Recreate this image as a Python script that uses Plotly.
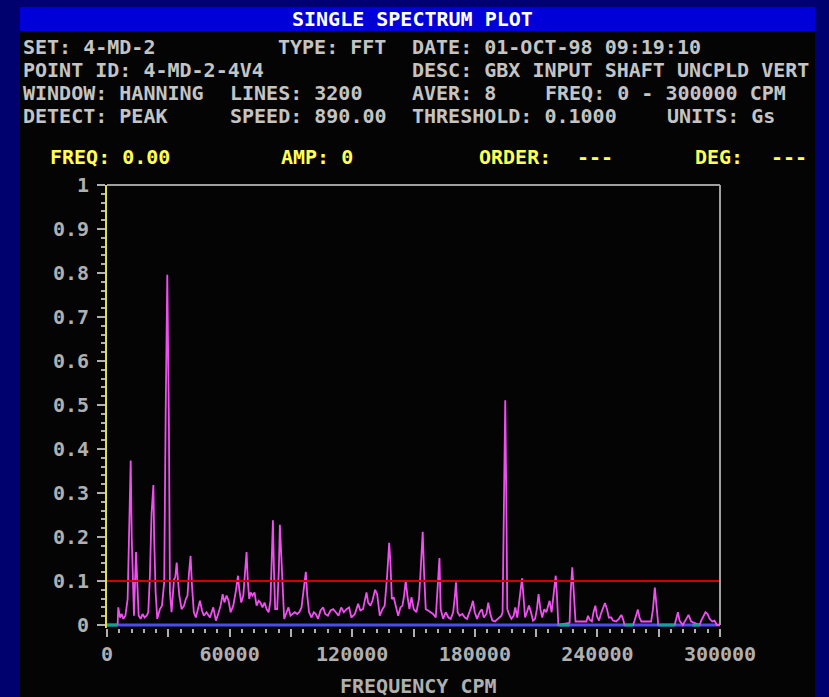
import plotly.graph_objects as go

# ---------------- data ----------------
freq_cpm = [
    5200, 5500, 6400, 7200, 8000, 9000, 10100, 10900, 11600, 12100, 12600, 13200, 14200, 14800, 15500,
    16500, 17400, 18400, 19400, 20200, 21000, 21800, 22700, 23100, 23800, 24600, 25300, 25900, 26900,
    28000, 28700, 29500, 30300, 30800, 31600, 32800, 33400, 34100, 34700, 35400, 36500, 37700, 38600,
    39400, 40100, 40900, 41600, 42500, 43500, 44500, 45500, 46500, 47400, 48700, 50400, 52000, 53300,
    54400, 55600, 56600, 57500, 58500, 59500, 60500, 61800, 63100, 64100, 64700, 65700, 66700, 67600,
    68300, 68900, 69600, 70300, 71200, 72200, 73200, 74200, 75100, 76100, 77100, 78100, 79100, 80000,
    80500, 81200, 81700, 82300, 83300, 84100, 84600, 85200, 85900, 86700, 87900, 88800, 89800, 90800,
    91900, 93100, 94100, 95200, 96300, 97300, 98000, 98900, 100100, 101200, 102200, 103300, 104500,
    105800, 106800, 108100, 109400, 110700, 112000, 113300, 114600, 115900, 117200, 118500, 119600,
    121300, 122900, 124000, 125300, 127000, 127800, 128900, 129900, 131200, 132200, 133500, 134800,
    135900, 137100, 138100, 138700, 139400, 140300, 141300, 142500, 143600, 144600, 145400, 146200,
    147000, 148000, 149000, 150100, 151400, 152700, 153700, 154500, 155200, 156000, 157100, 158300,
    159600, 160900, 161900, 162700, 163300, 164500, 165800, 167100, 168200, 169400, 170200, 170800,
    171600, 172600, 173900, 175100, 176200, 177200, 178200, 179100, 180000, 181100, 182400, 183400,
    184400, 185700, 186600, 187600, 188600, 189900, 191200, 192200, 193000, 193600, 194100, 194900,
    195400, 195900, 196700, 197900, 199000, 199800, 200800, 202000, 203100, 203800, 204600, 205500,
    206500, 207500, 208500, 209500, 210400, 211200, 212100, 213000, 214000, 215000, 216000, 216600,
    217600, 218600, 219600, 220200, 220900, 226400, 226900, 227700, 228500, 229300, 234600, 235400,
    236200, 237300, 238100, 239000, 239800, 240800, 241700, 242700, 243700, 244700, 245600, 246800,
    247600, 249200, 250500, 251700, 252500, 253300, 257400, 258200, 259800, 260600, 261500, 266300,
    267200, 268100, 269000, 269800, 277800, 278600, 279400, 280200, 281800, 283500, 284600, 285900,
    290000, 290800, 291900, 292900, 293900, 294900, 296200, 297300, 298500, 300000,
]
amp_gs = [
    0.0, 0.040, 0.017, 0.025, 0.014, 0.021, 0.059, 0.233, 0.374, 0.199, 0.089, 0.021, 0.166, 0.085, 0.021,
    0.014, 0.025, 0.017, 0.021, 0.029, 0.112, 0.253, 0.318, 0.195, 0.074, 0.014, 0.029, 0.036, 0.044,
    0.097, 0.475, 0.796, 0.456, 0.074, 0.029, 0.104, 0.108, 0.142, 0.104, 0.067, 0.036, 0.044, 0.059,
    0.067, 0.116, 0.157, 0.089, 0.029, 0.017, 0.040, 0.055, 0.033, 0.021, 0.029, 0.017, 0.040, 0.010,
    0.025, 0.044, 0.070, 0.051, 0.067, 0.055, 0.029, 0.044, 0.078, 0.112, 0.082, 0.051, 0.067, 0.131,
    0.166, 0.101, 0.059, 0.074, 0.067, 0.074, 0.044, 0.055, 0.051, 0.040, 0.051, 0.036, 0.029, 0.055,
    0.146, 0.238, 0.127, 0.036, 0.036, 0.127, 0.228, 0.165, 0.067, 0.014, 0.029, 0.040, 0.021, 0.025,
    0.029, 0.025, 0.029, 0.040, 0.082, 0.121, 0.067, 0.029, 0.017, 0.029, 0.025, 0.014, 0.033,
    0.040, 0.025, 0.021, 0.033, 0.036, 0.029, 0.021, 0.040, 0.029, 0.036, 0.040, 0.017,
    0.025, 0.048, 0.033, 0.036, 0.074, 0.051, 0.044, 0.055, 0.080, 0.070, 0.021, 0.036,
    0.044, 0.112, 0.187, 0.142, 0.059, 0.063, 0.044, 0.021, 0.040, 0.044, 0.067, 0.101,
    0.067, 0.036, 0.063, 0.036, 0.029, 0.059, 0.142, 0.212, 0.116, 0.036, 0.033, 0.029,
    0.025, 0.017, 0.097, 0.152, 0.036, 0.014, 0.029, 0.017, 0.014, 0.029, 0.063, 0.097,
    0.029, 0.021, 0.025, 0.017, 0.014, 0.025, 0.040, 0.055, 0.029, 0.014, 0.029, 0.036,
    0.017, 0.025, 0.051, 0.025, 0.010, 0.008, 0.014, 0.017, 0.021, 0.029, 0.271, 0.511,
    0.297, 0.036, 0.025, 0.014, 0.021, 0.040, 0.017, 0.067, 0.106, 0.067, 0.017, 0.029,
    0.044, 0.029, 0.010, 0.014, 0.036, 0.070, 0.036, 0.017, 0.036, 0.029, 0.044, 0.055,
    0.029, 0.067, 0.112, 0.067, 0.0, 0.005, 0.074, 0.131, 0.067, 0.008, 0.008, 0.021,
    0.012, 0.008, 0.029, 0.044, 0.020, 0.010, 0.025, 0.036, 0.050, 0.036, 0.017, 0.017,
    0.010, 0.008, 0.014, 0.023, 0.014, 0.0, 0.0, 0.010, 0.035, 0.017, 0.008, 0.008,
    0.036, 0.085, 0.036, 0.0, 0.0, 0.017, 0.029, 0.010, 0.0, 0.014, 0.023, 0.008,
    0.0, 0.010, 0.020, 0.029, 0.025, 0.014, 0.008, 0.010, 0.0, 0.0,
]
zero_ranges_cpm = [(0, 5200), (220900, 226400), (253300, 257400), (269800, 277800), (286500, 290000)]
baseline_cpm = [0, 300000]
baseline_gs = [0, 0]
threshold_gs = 0.1

x_tick_vals = [0, 30000, 60000, 90000, 120000, 150000, 180000, 210000, 240000, 270000, 300000]
x_tick_text = ["0", "", "60000", "", "120000", "", "180000", "", "240000", "", "300000"]
y_tick_vals = [0, 0.1, 0.2, 0.3, 0.4, 0.5, 0.6, 0.7, 0.8, 0.9, 1.0]
y_tick_text = ["0", "0.1", "0.2", "0.3", "0.4", "0.5", "0.6", "0.7", "0.8", "0.9", "1"]

title_text = "SINGLE SPECTRUM PLOT"
x_axis_title = "FREQUENCY CPM"
header_rows = [
    [("SET: 4-MD-2", 0), ("TYPE: FFT", 21), ("DATE: 01-OCT-98 09:19:10", 32)],
    [("POINT ID: 4-MD-2-4V4", 0), ("DESC: GBX INPUT SHAFT UNCPLD VERT", 32)],
    [("WINDOW: HANNING", 0), ("LINES: 3200", 17), ("AVER: 8", 32), ("FREQ: 0 - 300000 CPM", 43)],
    [("DETECT: PEAK", 0), ("SPEED: 890.00", 17), ("THRESHOLD: 0.1000", 32), ("UNITS: Gs", 53)],
]
cursor_items = [("FREQ: 0.00", 49), ("AMP: 0", 280), ("ORDER:", 478), ("---", 576), ("DEG:", 694), ("---", 770)]

# ---------------- layout geometry ----------------
W, H = 829, 697
PL, PR, PT, PB = 107, 720, 185, 628   # plot box in px (zero level sits at ZERO_PX)
ZERO_PX = 625
Y_MIN = -(PB - ZERO_PX) / (ZERO_PX - PT)
NAVY = "#00006e"
BAR = "#0000d8"
GRAY = "#b0b0b0"
HEAD = "#c4c4c4"
YEL = "#ffff55"
FONT = "DejaVu Sans Mono"


def xp(px):
    return (px - PL) / (PR - PL)


def yp(py):
    return (PB - py) / (PB - PT)


fig = go.Figure()

# blue zero baseline
fig.add_trace(go.Scatter(x=baseline_cpm, y=baseline_gs, mode="lines",
                         line=dict(color="#4b4bf0", width=3), hoverinfo="skip"))

# spectrum
fig.add_trace(go.Scatter(x=freq_cpm, y=amp_gs, mode="lines",
                         line=dict(color="#f04ff0", width=1.8), hoverinfo="skip"))

# zero-level segments (teal)
zx, zy = [], []
for a, b in zero_ranges_cpm:
    zx += [a, b, None]
    zy += [0, 0, None]
fig.add_trace(go.Scatter(x=zx, y=zy, mode="lines", line=dict(color="#10a498", width=3),
                         hoverinfo="skip"))

shapes = [
    # black panel
    dict(type="rect", xref="paper", yref="paper", x0=xp(20), x1=xp(815), y0=yp(697), y1=yp(30),
         fillcolor="#040404", line=dict(width=0), layer="below"),
    # title bar
    dict(type="rect", xref="paper", yref="paper", x0=xp(20), x1=xp(815), y0=yp(31), y1=yp(7),
         fillcolor=BAR, line=dict(width=0), layer="below"),
    # threshold line
    dict(type="line", xref="paper", yref="y", x0=0, x1=1, y0=threshold_gs, y1=threshold_gs,
         line=dict(color="#d00000", width=2)),
    # top & right frame
    dict(type="line", xref="paper", yref="paper", x0=0, x1=1, y0=1, y1=1,
         line=dict(color="#a0a0a0", width=2)),
    dict(type="line", xref="paper", yref="paper", x0=1, x1=1, y0=yp(ZERO_PX), y1=1,
         line=dict(color="#a0a0a0", width=2)),
]

ann = []
ann.append(dict(text=title_text, x=xp(412), y=yp(19), xref="paper", yref="paper",
                xanchor="center", yanchor="middle", showarrow=False,
                font=dict(family=FONT, size=20, color="#ffffff", weight="bold")))
row_y = [47, 70, 93, 116]
for r, row in enumerate(header_rows):
    for txt, col in row:
        ann.append(dict(text=txt, x=xp(21 + col * 12.15), y=yp(row_y[r]), xref="paper", yref="paper",
                        xanchor="left", yanchor="middle", showarrow=False,
                        font=dict(family=FONT, size=20, color=HEAD, weight="bold")))
for txt, px in cursor_items:
    ann.append(dict(text=txt, x=xp(px - 1), y=yp(157), xref="paper", yref="paper",
                    xanchor="left", yanchor="middle", showarrow=False,
                    font=dict(family=FONT, size=20, color=YEL, weight="bold")))
ann.append(dict(text=x_axis_title, x=xp(418), y=yp(686), xref="paper", yref="paper",
                xanchor="center", yanchor="middle", showarrow=False,
                font=dict(family=FONT, size=20, color=GRAY, weight="bold")))

fig.update_layout(
    width=W, height=H, autosize=False,
    margin=dict(l=PL, r=W - PR, t=PT, b=H - PB, pad=0),
    paper_bgcolor=NAVY, plot_bgcolor="rgba(0,0,0,0)",
    showlegend=False, shapes=shapes, annotations=ann,
    xaxis=dict(range=[0, 300000], tickmode="array", tickvals=x_tick_vals, ticktext=x_tick_text,
               ticks="outside", ticklen=8, tickwidth=2, tickcolor=GRAY,
               showline=False, showgrid=False, zeroline=False,
               tickfont=dict(family=FONT, size=20, color=GRAY, weight="bold"),
               minor=dict(tickmode="linear", tick0=0, dtick=6000, ticks="outside", ticklen=4,
                          tickwidth=2, tickcolor=GRAY, showgrid=False)),
    yaxis=dict(range=[Y_MIN, 1], tickmode="array", tickvals=y_tick_vals, ticktext=y_tick_text,
               ticks="outside", ticklen=8, tickwidth=2, tickcolor=GRAY,
               showline=True, linecolor="#e0e040", linewidth=2, showgrid=False, zeroline=False,
               ticklabelstandoff=4,
               tickfont=dict(family=FONT, size=20, color=GRAY, weight="bold"),
               minor=dict(tickmode="linear", tick0=0, dtick=0.02, ticks="outside", ticklen=4,
                          tickwidth=2, tickcolor=GRAY, showgrid=False)),
)

fig.write_html("out.html")
